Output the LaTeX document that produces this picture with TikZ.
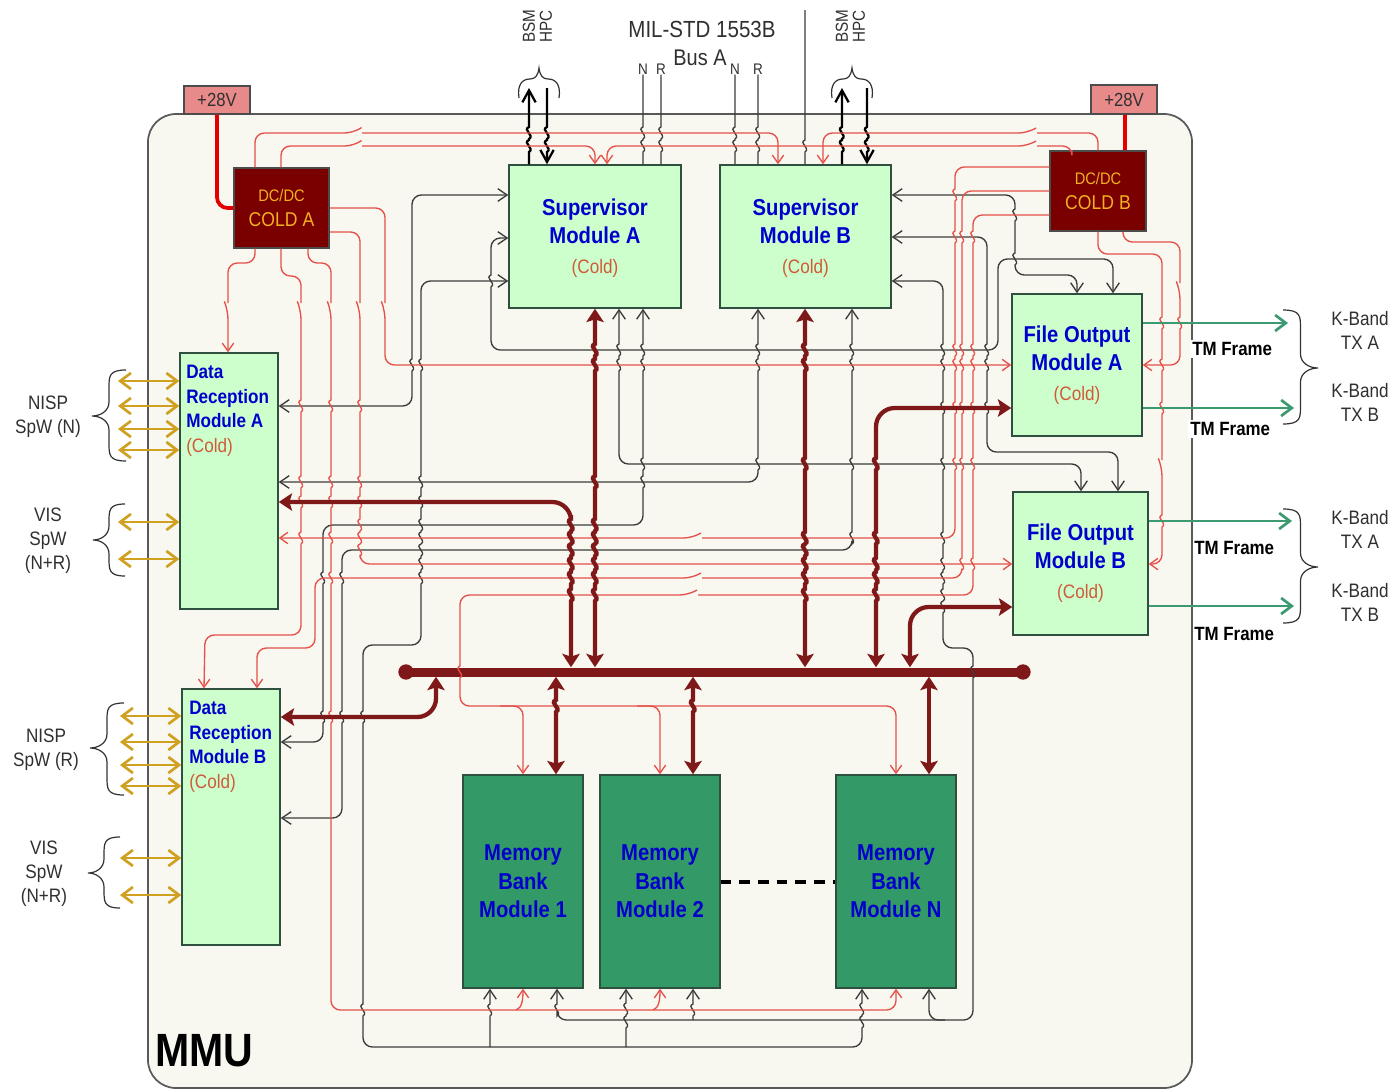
\documentclass[tikz,border=0pt]{standalone}
\usepackage{fontspec}
\usetikzlibrary{arrows.meta}
\setmainfont[FakeStretch=0.88]{Liberation Sans}
\definecolor{modfill}{HTML}{CCFFCC}
\definecolor{memfill}{HTML}{339966}
\definecolor{dcfill}{HTML}{7A0000}
\definecolor{pinkfill}{HTML}{E98A8A}
\definecolor{txtblue}{HTML}{0000CC}
\definecolor{coldtxt}{HTML}{D05A3A}
\definecolor{goldline}{HTML}{D0A020}
\definecolor{greenline}{HTML}{3D9970}
\definecolor{darkred}{HTML}{7F1818}
\definecolor{wirered}{HTML}{E5504A}
\definecolor{wireblack}{HTML}{3C3C3C}
\definecolor{framefill}{HTML}{F8F7F0}
\definecolor{dcyellow}{HTML}{F0B020}
\definecolor{labelgray}{HTML}{303030}
\definecolor{boxedge}{HTML}{2F4F3F}
% wire helpers: hops at crossings, downward / upward
\newcommand\hv[2]{foreach \hy in {#2} { [sharp corners] -- (#1,\hy-6) .. controls (#1-7,\hy-3) and (#1+6,\hy+2) .. (#1,\hy+6) [wirecorner] }}
\newcommand\hu[2]{foreach \hy in {#2} { [sharp corners] -- (#1,\hy+6) .. controls (#1+6,\hy+2) and (#1-7,\hy-3) .. (#1,\hy-6) [wirecorner] }}
% switches: vertical (going down), horizontal going right, horizontal going left
\newcommand\swv[2]{ -- (#1,#2) (#1-3,#2) -- (#1,#2+7) }
\newcommand\swr[2]{ -- (#1,#2) -- (#1+7,#2-5) (#1+8,#2) }
\newcommand\swl[2]{ -- (#1+9,#2) (#1+8,#2-5) -- (#1,#2) }
\newcommand\vbrace[5]{% xe xt y1 yt y2
  \pgfmathsetmacro\xm{(#1+#2)/2}
  \draw[bracew] (#1,#3) .. controls (\xm,#3) and (\xm,#3+6) .. (\xm,#3+18) -- (\xm,#4-14)
    .. controls (\xm,#4-5) and ({\xm+(#2-\xm)*0.5},#4) .. (#2,#4)
    .. controls ({\xm+(#2-\xm)*0.5},#4) and (\xm,#4+5) .. (\xm,#4+14) -- (\xm,#5-18)
    .. controls (\xm,#5-6) and (\xm,#5) .. (#1,#5);}
\newcommand\tbrace[1]{% centre x
  \draw[bracew] (#1-20,98) .. controls (#1-22,85) and (#1-17,79) .. (#1-9,79)
    .. controls (#1-4,79) and (#1-1,76) .. (#1,68)
    .. controls (#1+1,76) and (#1+4,79) .. (#1+9,79)
    .. controls (#1+17,79) and (#1+22,85) .. (#1+20,98);}
\tikzset{
  wh/.style 2 args={minimum width={#1*0.75pt},minimum height={#2*0.75pt}},
  basebox/.style={draw=boxedge,line width=1.1pt,inner sep=0pt,align=center,rectangle},
  modbox/.style={basebox,fill=modfill,text=txtblue,font=\fontsize{17.25}{21}\selectfont\bfseries},
  membox/.style={basebox,fill=memfill,text=txtblue,font=\fontsize{17.25}{21.5}\selectfont\bfseries},
  dcbox/.style={basebox,fill=dcfill,draw=black!70,text=dcyellow,font=\fontsize{15}{17.5}\selectfont},
  pbox/.style={basebox,fill=pinkfill,draw=black!70,text=labelgray,font=\fontsize{14.25}{17}\selectfont},
  drtext/.style={text=txtblue,anchor=north west,inner sep=0pt,align=left,font=\fontsize{14.6}{18.4}\selectfont\bfseries},
  lbl/.style={text=labelgray,align=center,inner sep=0pt,font=\fontsize{14.6}{18}\selectfont},
  smalllbl/.style={text=labelgray,inner sep=0pt,font=\fontsize{11.5}{13}\selectfont},
  rotlbl/.style={text=labelgray,inner sep=0pt,rotate=90,anchor=west,font=\fontsize{13}{14}\selectfont},
  tmlbl/.style={anchor=west,text=black,inner sep=1.5pt,font=\fontsize{14.4}{17}\selectfont\bfseries},
  wirecorner/.style={rounded corners=7pt},
  bw/.style={draw=wireblack,line width=1pt,wirecorner,>={Straight Barb[length=7pt,width=9.5pt]}},
  rw/.style={draw=wirered,line width=1pt,wirecorner,->,>={Straight Barb[length=6pt,width=8.5pt]}},
  tw/.style={draw=darkred,line width=3.2pt,wirecorner/.style={rounded corners=14pt},wirecorner,<->,>={Stealth[length=10pt,width=13pt,inset=2pt]}},
  bk/.style={draw=black,line width=1.7pt,>={Straight Barb[length=9pt,width=10pt]}},
  gw/.style={draw=greenline,line width=2pt,->,>={Straight Barb[length=8pt,width=12pt]}},
  gd/.style={draw=goldline,line width=2pt,<->,>={Straight Barb[length=8pt,width=12pt]}},
  pw/.style={draw=red!90!black,line width=2.8pt,rounded corners=8pt},
  bracew/.style={draw=black!80,line width=0.9pt,rounded corners=0pt},
}
\newcommand\coldline{{\color{coldtxt}\fontsize{14.6}{18}\selectfont\mdseries (Cold)}}
\begin{document}
\begin{tikzpicture}[x=0.75pt,y=-0.75pt]
\useasboundingbox (0,0) rectangle (1389,1089);
\fill[white] (0,0) rectangle (1389,1089);
% frame
\draw[fill=framefill,draw=black!65,line width=1.3pt,rounded corners=21pt] (148,114) rectangle (1192,1088);
\node[anchor=west,inner sep=0pt,text=black,font=\fontsize{35}{40}\selectfont\bfseries] (mmu) at (155,1051) {MMU};
% boxes
\node[pbox,wh={66}{28}] (v28a) at (217,100) {+28V};
\node[pbox,wh={66}{29}] (v28b) at (1124,99.5) {+28V};
\node[dcbox,wh={95}{80}] (dca) at (281.5,208) {{\fontsize{12.5}{17.5}\selectfont DC/DC}\\[1pt]COLD A};
\node[dcbox,wh={96}{80}] (dcb) at (1098,191) {{\fontsize{12.5}{17.5}\selectfont DC/DC}\\[1pt]COLD B};
\node[modbox,wh={172}{143}] (sa) at (595,236.5) {\rule{0pt}{15.5pt}Supervisor\\Module A\\[1.5pt]\coldline};
\node[modbox,wh={171}{143}] (sb) at (805.5,236.5) {\rule{0pt}{15.5pt}Supervisor\\Module B\\[1.5pt]\coldline};
\node[modbox,wh={130}{142}] (foa) at (1077,365) {File Output\\Module A\\[1.5pt]\coldline};
\node[modbox,wh={135}{143}] (fob) at (1080.5,563.5) {File Output\\Module B\\[1.5pt]\coldline};
\node[modbox,wh={98}{256}] (dra) at (229,481) {};
\node[drtext] (dratxt) at (186,365) {Data\\Reception\\Module A\\{\color{coldtxt}\mdseries (Cold)}};
\node[modbox,wh={98}{256}] (drb) at (231,817) {};
\node[drtext] (drbtxt) at (189,701) {Data\\Reception\\Module B\\{\color{coldtxt}\mdseries (Cold)}};
\node[membox,wh={120}{213}] (mb1) at (523,881.5) {Memory\\Bank\\Module 1};
\node[membox,wh={120}{213}] (mb2) at (660,881.5) {Memory\\Bank\\Module 2};
\node[membox,wh={120}{213}] (mbn) at (896,881.5) {Memory\\Bank\\Module N};
\node[rectangle,fill=darkred,inner sep=0pt,wh={617}{9}] (bus) at (714.5,672) {};
\node[circle,fill=darkred,inner sep=0pt,minimum size=11.5pt] (busl) at (406,672) {};
\node[circle,fill=darkred,inner sep=0pt,minimum size=11.5pt] (busr) at (1023,672) {};
% outer labels
\node[lbl,font=\fontsize{17.5}{19}\selectfont] (mil) at (702,29) {MIL-STD 1553B};
\node[lbl,font=\fontsize{17}{19}\selectfont] (busa) at (700,58) {Bus A};
\node[smalllbl] (n1) at (643,69) {N};
\node[smalllbl] (r1) at (661,69) {R};
\node[smalllbl] (n2) at (735,69) {N};
\node[smalllbl] (r2) at (758,69) {R};
\node[rotlbl] (bsma) at (529,43) {BSM};
\node[rotlbl] (hpca) at (546,43) {HPC};
\node[rotlbl] (bsmb) at (842,43) {BSM};
\node[rotlbl] (hpcb) at (859,43) {HPC};
\node[lbl] (nispn) at (48,417) {NISP\\SpW (N)};
\node[lbl] (visa) at (48,541) {VIS\\SpW\\(N+R)};
\node[lbl] (nispr) at (46,750) {NISP\\SpW (R)};
\node[lbl] (visb) at (44,874) {VIS\\SpW\\(N+R)};
\node[lbl] (k1) at (1360,330) {K-Band\\TX A};
\node[lbl] (k2) at (1360,402) {K-Band\\TX B};
\node[lbl] (k3) at (1360,529) {K-Band\\TX A};
\node[lbl] (k4) at (1360,602) {K-Band\\TX B};
\node[tmlbl,fill=white] (tm1) at (1190,349) {TM Frame};
\node[tmlbl,fill=white] (tm2) at (1188,429) {TM Frame};
\node[tmlbl] (tm3) at (1192,548) {TM Frame};
\node[tmlbl] (tm4) at (1192,634) {TM Frame};
% braces
\tbrace{539}
\tbrace{852}
\vbrace{126}{92}{370}{416}{461}
\vbrace{125}{93}{504}{540}{576}
\vbrace{124}{90}{703}{748}{795}
\vbrace{120}{88}{837}{873}{908}
\vbrace{1283}{1318}{310}{368}{424}
\vbrace{1283}{1318}{509}{567}{623}
% power
\draw[pw] (v28a.south -| 217,0) -- (217,208) -- (dca.west |- 0,208);
\draw[pw] (v28b.south -| 1125,0) -- (dcb.north -| 1125,0);
% black wires
\draw[bw,<->] (sa.west |- 0,195) -- (412,195) \hv{412}{365} -- (412,406) -- (dra.east |- 0,406);
\draw[bw,<->] (sa.west |- 0,281) -- (421,281) \hv{421}{365,482,502,525,538,550,564,578} -- (421,645) -- (363,645) \hv{363}{717,1010} -- (363,1047) -- (862,1047) \hu{862}{1022,1009} -- (mbn.south -| 862,0);
\draw[bw,->] (490,1047) \hu{490}{1010} -- (mb1.south -| 490,0);
\draw[bw,->] (626,1047) \hu{626}{1022,1009} -- (mb2.south -| 626,0);
\draw[bw,<->] (sa.west |- 0,238) -- (491,238) \hv{491}{281} -- (491,350) -- (998,350) -- (998,259) -- (1113,259) -- (foa.north -| 1113,0);
\draw[bw,<->] (sa.south -| 619,0) \hv{619}{350,365} -- (619,464) -- (1081,464) -- (fob.north -| 1081,0);
\draw[bw,<->] (sa.south -| 643,0) \hv{643}{350,365,464,482} -- (643,525) -- (323,525) \hv{323}{578,717} -- (323,742) -- (drb.east |- 0,742);
\draw[bw,<->] (sb.south -| 758,0) \hv{758}{350,365,464} -- (758,482) -- (dra.east |- 0,482);
\draw[bw,<->] (sb.south -| 852,0) \hv{852}{350,365,464,538} -- (852,550) -- (342,550) \hv{342}{578,717} -- (342,818) -- (drb.east |- 0,818);
\draw[bw,<->] (sb.east |- 0,195) -- (1015,195) \hv{1015}{215,259} -- (1015,275) -- (1077,275) -- (foa.north -| 1077,0);
\draw[bw,<->] (sb.east |- 0,237) -- (987,237) \hv{987}{350,365,408} -- (987,452) -- (1118,452) -- (fob.north -| 1118,0);
\draw[bw,<->] (sb.east |- 0,281) -- (943,281) \hv{943}{350,365,408,464,538,564,578,595,607} -- (943,648) -- (973,648) \hv{973}{672} -- (973,1020) -- (557,1020) \hu{557}{1010} -- (mb1.south -| 557,0);
\draw[bw,->] (693,1020) \hu{693}{1010} -- (mb2.south -| 693,0);
\draw[bw,->] (945,1020) -- (929,1020) -- (mbn.south -| 929,0);
\draw[bw] (n1.south) \hv{643}{133,146} -- (sa.north -| 643,0);
\draw[bw] (r1.south) \hv{661}{133,146} -- (sa.north -| 661,0);
\draw[bw] (n2.south) \hv{735}{133,146} -- (sb.north -| 735,0);
\draw[bw] (r2.south) \hv{758}{133,146} -- (sb.north -| 758,0);
\coordinate (busb) at (805,10);
\draw[bw] (busb) \hv{805}{146} -- (sb.north -| 805,0);
% thick black
\coordinate (ba) at (529,88); \coordinate (ha) at (547,88);
\coordinate (bb) at (842,88); \coordinate (hb) at (867,88);
\draw[bk,wirecorner,->] (sa.north -| 529,0) \hu{529}{146,133} -- (ba);
\draw[bk,wirecorner,->] (ha) \hv{547}{133,146} -- (sa.north -| 547,0);
\draw[bk,wirecorner,->] (sb.north -| 842,0) \hu{842}{146,133} -- (bb);
\draw[bk,wirecorner,->] (hb) \hv{867}{133,146} -- (sb.north -| 867,0);
% red wires
\draw[rw] (dca.north -| 255,0) -- (255,133) \swr{354}{133} -- (778,133) -- (sb.north -| 778,0);
\draw[rw] (dca.north -| 281,0) -- (281,146) \swr{354}{146} -- (595,146) -- (sa.north -| 595,0);
\draw[rw] (dcb.north -| 1098,0) -- (1098,133) \swl{1028}{133} -- (823,133) -- (sb.north -| 823,0);
\draw[rw] (dcb.north -| 1072,0) -- (1072,146) \swl{1028}{146} -- (607,146) -- (sa.north -| 607,0);
\draw[rw] (dca.south -| 255,0) -- (255,263) -- (228,263) \swv{228}{303} -- (dra.north -| 228,0);
\draw[rw] (dca.south -| 281,0) -- (281,276) -- (301,276) \swv{301}{303} \hv{301}{406,482,502,538} -- (301,635) -- (205,635) -- (drb.north -| 204,0);
\draw[rw] (dca.south -| 308,0) -- (308,263) -- (331,263) \swv{331}{303} \hv{331}{406,482,502,538,578,717} -- (331,1010) -- (896,1010) -- (mbn.south -| 896,0);
\draw[rw] (516,1010) .. controls (522,1008) and (523,1000) .. (mb1.south -| 523,0);
\draw[rw] (653,1010) .. controls (659,1008) and (660,1000) .. (mb2.south -| 660,0);
\draw[rw] (dca.east |- 0,232) -- (360,232) \swv{360}{303} \hv{360}{406,482,502,525,538,550} -- (360,564) -- (fob.west |- 0,564);
\draw[rw] (dca.east |- 0,208) -- (385,208) \swv{385}{303} -- (385,365) -- (foa.west |- 0,365);
\draw[rw] (dcb.west |- 0,167) -- (955,167) \hv{955}{195,237,350,365,408,464} -- (955,538) \swl{693}{538} -- (dra.east |- 0,538);
\draw[rw] (dcb.west |- 0,191) -- (962,191) \hv{962}{237,350,365,408,464,564} -- (962,578) \swl{693}{578} -- (315,578) -- (315,648) -- (257,648) -- (drb.north -| 257,0);
\draw[rw] (dcb.west |- 0,215) -- (973,215) \hv{973}{237,350,365,408,464,564} -- (973,595) \swl{689}{595} -- (460,595) \hv{460}{672} -- (460,706) -- (896,706) -- (mbn.north -| 896,0);
\draw[rw] (500,706) -- (523,706) -- (mb1.north -| 523,0);
\draw[rw] (637,706) -- (660,706) -- (mb2.north -| 660,0);
\draw[rw] (dcb.south -| 1098,0) -- (1098,254) -- (1162,254) \hv{1162}{323,365,408} \swv{1162}{460} \hv{1162}{521} -- (1162,564) -- (fob.east |- 0,564);
\draw[rw] (dcb.south -| 1123,0) -- (1123,242) -- (1180,242) \swv{1180}{283} \hv{1180}{323} -- (1180,365) -- (foa.east |- 0,365);
% thick bus connectors
\draw[tw] (sa.south -| 595,0) \hv{595}{350,365,482,525,538,550,564,578,595} -- (bus.north -| 595,0);
\draw[tw] (sb.south -| 805,0) \hv{805}{350,365,464,538,550,564,578,595} -- (bus.north -| 805,0);
\draw[tw] (dra.east |- 0,502) -- (571,502) \hv{571}{525,538,550,564,578,595} -- (bus.north -| 571,0);
\draw[tw] (foa.west |- 0,408) -- (876,408) \hv{876}{464,538,564,578,595} -- (bus.north -| 876,0);
\draw[tw] (fob.west |- 0,607) -- (910,607) -- (bus.north -| 910,0);
\draw[tw] (drb.east |- 0,717) -- (436,717) -- (bus.south -| 436,0);
\draw[tw] (bus.south -| 556,0) \hv{556}{706} -- (mb1.north -| 556,0);
\draw[tw] (bus.south -| 693,0) \hv{693}{706} -- (mb2.north -| 693,0);
\draw[tw] (bus.south -| 929,0) -- (mbn.north -| 929,0);
% green telemetry
\coordinate (g1) at (1288,323); \coordinate (g2) at (1294,408); \coordinate (g3) at (1292,521); \coordinate (g4) at (1294,606);
\draw[gw] (foa.east |- 0,323) -- (g1);
\draw[gw] (foa.east |- 0,408) -- (g2);
\draw[gw] (fob.east |- 0,521) -- (g3);
\draw[gw] (fob.east |- 0,606) -- (g4);
% gold spacewire
\foreach \gy in {381,406,429,450,522,559} {\coordinate (gl) at (118,\gy); \draw[gd] (gl) -- (dra.west |- gl);}
\foreach \gy in {716,742,765,786,858,895} {\coordinate (gl) at (120,\gy); \draw[gd] (gl) -- (drb.west |- gl);}
% dashed
\draw[black,line width=2.8pt,dash pattern=on 8pt off 6pt] (mb2.east |- 0,882) -- (mbn.west |- 0,882);
\end{tikzpicture}
\end{document}
